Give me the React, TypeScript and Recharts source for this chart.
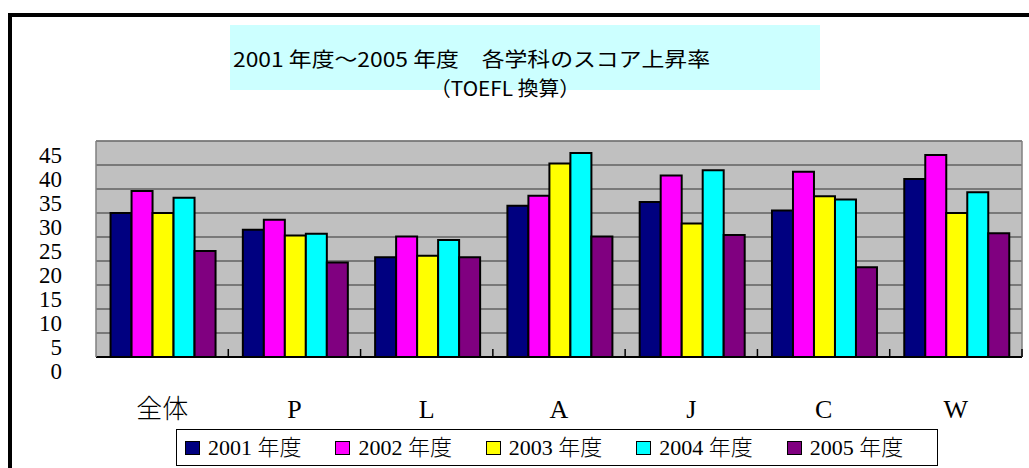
import React from "react"
import {
  BarChart,
  Bar,
  XAxis,
  YAxis,
  CartesianGrid,
  Legend,
  ReferenceLine,
} from "recharts"

const categories = ["全体", "P", "L", "A", "J", "C", "W"]
const y2001 = [30, 26.5, 20.8, 31.5, 32.3, 30.5, 37.1]
const y2002 = [34.6, 28.6, 25.1, 33.6, 37.8, 38.6, 42.1]
const y2003 = [30, 25.3, 21.1, 40.3, 27.8, 33.5, 30]
const y2004 = [33.2, 25.7, 24.4, 42.5, 38.9, 32.8, 34.3]
const y2005 = [22.1, 19.7, 20.8, 25.1, 25.4, 18.7, 25.8]
const yTicks = [0, 5, 10, 15, 20, 25, 30, 35, 40, 45]

const seriesNames = ["2001 年度", "2002 年度", "2003 年度", "2004 年度", "2005 年度"]
const seriesColors = ["#000080", "#ff00ff", "#ffff00", "#00ffff", "#800080"]
const seriesValues = [y2001, y2002, y2003, y2004, y2005]

const data = categories.map((c, i) => {
  const row: Record<string, string | number> = { name: c }
  seriesNames.forEach((s, k) => {
    row[s] = seriesValues[k][i]
  })
  return row
})

const serif = "'Liberation Serif', 'Times New Roman', 'Noto Sans CJK JP', serif"

function YTick({ x, y, payload }: any) {
  return (
    <text
      x={x}
      y={y + 14}
      textAnchor="end"
      dominantBaseline="central"
      style={{ fontFamily: serif, fontSize: 23 }}
      fill="#000"
    >
      {payload.value}
    </text>
  )
}

function XTick({ x, y, payload }: any) {
  const half = payload.offset || 66
  const axisY = y - 52
  return (
    <g>
      <line x1={x + half} x2={x + half} y1={axisY} y2={axisY - 8} stroke="#000" strokeWidth={1.5} />
      <text
        x={x}
        y={y}
        textAnchor="middle"
        dominantBaseline="central"
        style={{ fontFamily: serif, fontSize: 26, fontWeight: 300 }}
        fill="#000"
      >
        {payload.value}
      </text>
    </g>
  )
}

function LegendBox({ payload }: any) {
  return (
    <div
      style={{
        border: "1.5px solid #000",
        height: 37,
        display: "flex",
        alignItems: "center",
        paddingLeft: 8,
        boxSizing: "border-box",
        background: "#fff",
      }}
    >
      {(payload || []).map((p: any) => (
        <div key={p.value} style={{ display: "flex", alignItems: "center", width: 151 }}>
          <span
            style={{
              width: 13,
              height: 12,
              background: p.color,
              border: "1.5px solid #000",
              marginRight: 8,
              display: "inline-block",
            }}
          />
          <span style={{ fontFamily: serif, fontSize: 22, lineHeight: "26px", color: "#000", fontWeight: 300 }}>
            {p.value}
          </span>
        </div>
      ))}
    </div>
  )
}

export default function App() {
  return (
    <div style={{ position: "absolute", left: 0, top: 0, width: 1029, height: 468, background: "#fff" }}>
      <div
        style={{
          position: "absolute",
          left: 8,
          top: 13,
          width: 1021,
          height: 455,
          borderLeft: "4px solid #000",
          borderTop: "4px solid #000",
          boxSizing: "border-box",
        }}
      />
      <div style={{ position: "absolute", left: 230, top: 25, width: 590, height: 65, background: "#ccffff" }} />
      <svg style={{ position: "absolute", left: 0, top: 0 }} width={1029} height={110}>
        <text
          x={233}
          y={67}
          style={{ fontFamily: "'Noto Sans CJK JP', sans-serif", fontSize: 20, fontWeight: 400 }}
          textLength={477}
          lengthAdjust="spacingAndGlyphs"
          fill="#000"
        >
          2001 年度～2005 年度　各学科のスコア上昇率
        </text>
        <text
          x={430}
          y={96}
          style={{ fontFamily: "'Noto Sans CJK JP', sans-serif", fontSize: 20, fontWeight: 400 }}
          textLength={150}
          lengthAdjust="spacingAndGlyphs"
          fill="#000"
        >
          （TOEFL 換算）
        </text>
      </svg>
      <div style={{ position: "absolute", left: 0, top: 0 }}>
        <BarChart
          width={1029}
          height={468}
          data={data}
          margin={{ top: 141, right: 6, bottom: 81, left: 36 }}
          barCategoryGap="11%"
          barGap={0}
        >
          <CartesianGrid vertical={false} stroke="#333" fill="#c0c0c0" fillOpacity={1} />
          <XAxis
            dataKey="name"
            height={30}
            tickSize={0}
            tickMargin={52}
            tickLine={false}
            axisLine={{ stroke: "#000", strokeWidth: 2 }}
            tick={<XTick />}
            interval={0}
          />
          <YAxis
            domain={[0, 45]}
            ticks={yTicks}
            interval={0}
            width={60}
            tickSize={0}
            tickMargin={34}
            tickLine={false}
            axisLine={{ stroke: "#808080", strokeWidth: 1.5 }}
            tick={<YTick />}
          />
          <YAxis
            yAxisId="r"
            orientation="right"
            width={1}
            domain={[0, 45]}
            tick={false}
            tickLine={false}
            axisLine={{ stroke: "#808080", strokeWidth: 1.5 }}
          />
          <ReferenceLine y={45} stroke="#808080" strokeWidth={1.5} />
          <Legend
            layout="horizontal"
            verticalAlign="middle"
            width={762}
            wrapperStyle={{ left: 176, top: 429, width: 762 }}
            content={<LegendBox />}
          />
          {seriesNames.map((s, k) => (
            <Bar
              key={s}
              dataKey={s}
              name={s}
              fill={seriesColors[k]}
              stroke="#000"
              strokeWidth={2}
              isAnimationActive={false}
            />
          ))}
        </BarChart>
      </div>
    </div>
  )
}
